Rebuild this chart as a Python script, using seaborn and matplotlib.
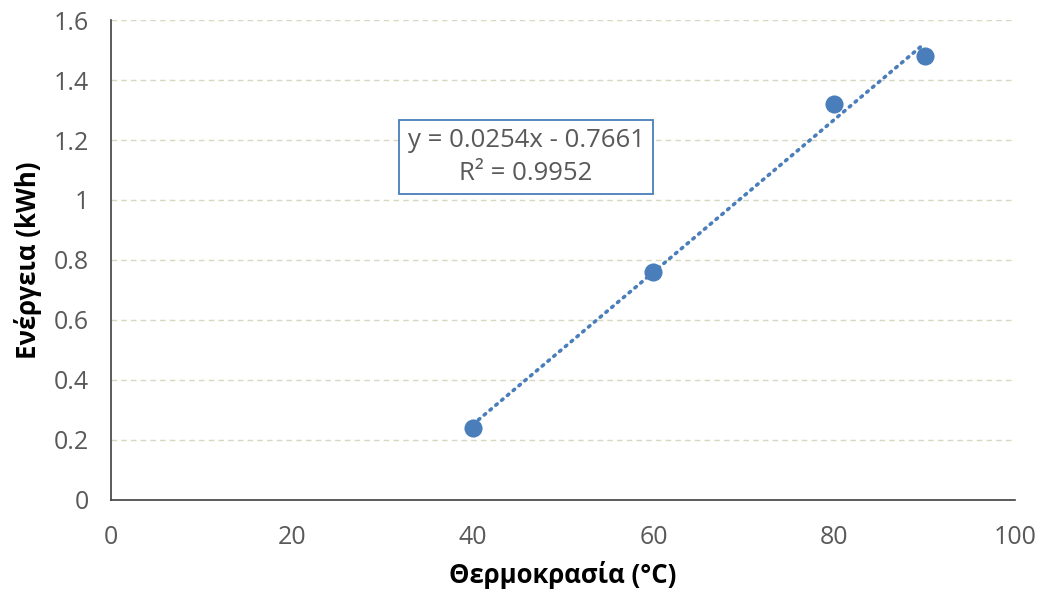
import numpy as np
import pandas as pd
import matplotlib
matplotlib.use("Agg")
import matplotlib.pyplot as plt
import seaborn as sns

temperature = [40, 60, 80, 90]
energy = [0.24, 0.76, 1.32, 1.48]
x_ticks = [0, 20, 40, 60, 80, 100]
y_ticks = [0, 0.2, 0.4, 0.6, 0.8, 1.0, 1.2, 1.4, 1.6]
y_tick_labels = ["0", "0.2", "0.4", "0.6", "0.8", "1", "1.2", "1.4", "1.6"]
x_label = "Θερμοκρασία (°C)"
y_label = "Ενέργεια (kWh)"

sns.set_theme(style="white")
plt.rcParams['font.family'] = ['Open Sans', 'DejaVu Sans']

blue = "#4a7ebb"
text_gray = "#595959"

df = pd.DataFrame({"T": temperature, "E": energy})

fig = plt.figure(figsize=(10.43, 5.99), dpi=100)
ax = fig.add_axes([0.1064, 0.1653, 0.8668, 0.8013])

# gridlines
ax.set_axisbelow(True)
ax.yaxis.grid(True, color="#d8d8c0", linestyle=(0, (4, 3)), linewidth=1.0)
ax.xaxis.grid(False)

# trendline
slope, intercept = np.polyfit(df["T"], df["E"], 1)
pred = slope * df["T"] + intercept
r2 = 1 - np.sum((df["E"] - pred) ** 2) / np.sum((df["E"] - df["E"].mean()) ** 2)
xs = np.linspace(df["T"].min(), df["T"].max(), 50)
ax.plot(xs, slope * xs + intercept, color=blue, linewidth=2.6,
        linestyle=(0, (0.5, 1.6)), dash_capstyle="round", zorder=2)

sns.scatterplot(data=df, x="T", y="E", ax=ax, color=blue, s=170,
                edgecolor=blue, linewidth=0, zorder=3)

sign = "-" if intercept < 0 else "+"
eq = f"y = {slope:.4f}x {sign} {abs(intercept):.4f}"
ax.text(45.9, 1.143, f"{eq}\nR² = {r2:.4f}", ha="center", va="center",
        fontsize=18.5, color=text_gray, linespacing=1.4,
        bbox=dict(boxstyle="square,pad=0.32", facecolor="white",
                  edgecolor=blue, linewidth=1.3), zorder=4)

ax.set_xlim(0, 100)
ax.set_ylim(0, 1.6)
ax.set_xticks(x_ticks)
ax.set_yticks(y_ticks)
ax.set_yticklabels(y_tick_labels)

for s in ["top", "right"]:
    ax.spines[s].set_visible(False)
for s in ["left", "bottom"]:
    ax.spines[s].set_color("#404040")
    ax.spines[s].set_linewidth(1.2)

ax.tick_params(axis="both", which="major", direction="out", length=7, width=1,
               color="#404040", labelsize=18, labelcolor=text_gray)
ax.tick_params(axis="x", pad=11)
ax.tick_params(axis="y", pad=9)

ax.set_xlabel(x_label, fontsize=18.5, fontweight="bold", color="black", labelpad=8)
ax.set_ylabel(y_label, fontsize=18.5, fontweight="bold", color="black", labelpad=8)

fig.savefig("out.png", dpi=100)
